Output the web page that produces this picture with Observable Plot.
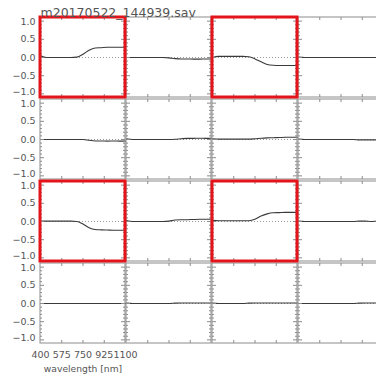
<!DOCTYPE html>
<html>
<head>
<meta charset="utf-8">
<script src="https://cdn.jsdelivr.net/npm/d3@7"></script>
<script src="https://cdn.jsdelivr.net/npm/@observablehq/plot@0.6"></script>
<style>
  html, body { margin: 0; padding: 0; background: #fff; overflow: hidden; }
  #chart svg { display: block; max-width: none !important; }
</style>
</head>
<body>
<div id="chart"></div>
<script>
// ---------- data ----------
const title = "m20170522_144939.sav";
const xLabel = "wavelength [nm]";
const wavelengths = [400, 450, 500, 550, 600, 650, 700, 750, 800, 850, 900, 950, 1000, 1050, 1100];
const xTickValues = [400, 575, 750, 925, 1100];
const xTickLabels = ["400", "575", "750", "925", "1100"];
const xInnerTicks = [575, 750, 925];
const yTickValues = [-1, -0.5, 0, 0.5, 1];
const yTickLabels = ["\u22121.0", "\u22120.5", "0.0", "0.5", "1.0"];

const r1c1 = [0.05, 0.00, 0.00, 0.00, 0.00, 0.00, 0.01, 0.09, 0.20, 0.26, 0.27, 0.28, 0.28, 0.28, 0.28];
const r1c2 = [0.00, 0.00, 0.00, 0.00, 0.00, 0.00, 0.00, -0.01, -0.03, -0.04, -0.04, -0.045, -0.045, -0.04, -0.04];
const r1c3 = [0.00, 0.03, 0.03, 0.03, 0.03, 0.03, 0.02, -0.04, -0.12, -0.19, -0.215, -0.22, -0.22, -0.22, -0.22];
const r1c4 = [0.01, 0.00, 0.00, 0.00, 0.00, 0.00, 0.00, 0.00, 0.00, 0.00, 0.00, 0.00, 0.00, 0.00, 0.00];
const r2c1 = [0.00, 0.00, 0.00, 0.00, 0.00, 0.00, 0.00, 0.00, -0.02, -0.04, -0.04, -0.045, -0.04, -0.045, -0.04];
const r2c2 = [0.02, 0.00, 0.00, 0.00, 0.00, 0.00, 0.00, 0.00, 0.005, 0.02, 0.03, 0.03, 0.035, 0.03, 0.035];
const r2c3 = [0.02, 0.01, 0.01, 0.01, 0.01, 0.01, 0.01, 0.02, 0.035, 0.045, 0.05, 0.055, 0.06, 0.06, 0.06];
const r2c4 = [0.01, 0.00, 0.00, 0.00, 0.00, 0.00, 0.00, 0.00, 0.00, 0.00, -0.01, -0.01, -0.01, -0.01, -0.01];
const r3c1 = [0.01, 0.01, 0.01, 0.01, 0.01, 0.01, 0.00, -0.07, -0.17, -0.22, -0.23, -0.235, -0.24, -0.24, -0.24];
const r3c2 = [0.03, 0.00, 0.00, 0.00, 0.00, 0.00, 0.00, 0.01, 0.04, 0.05, 0.05, 0.055, 0.06, 0.06, 0.06];
const r3c3 = [0.03, 0.02, 0.02, 0.02, 0.02, 0.02, 0.02, 0.06, 0.15, 0.21, 0.24, 0.245, 0.25, 0.25, 0.25];
const r3c4 = [0.01, 0.00, 0.00, 0.00, 0.00, 0.00, 0.00, 0.00, 0.00, 0.00, 0.01, 0.01, 0.00, 0.01, 0.00];
const r4c1 = [0.00, 0.00, 0.00, 0.00, 0.00, 0.00, 0.00, 0.00, 0.00, 0.00, 0.00, 0.00, 0.00, 0.00, 0.00];
const r4c2 = [0.01, 0.00, 0.00, 0.00, 0.00, 0.00, 0.00, 0.00, 0.01, 0.015, 0.015, 0.015, 0.015, 0.015, 0.015];
const r4c3 = [0.01, 0.00, 0.00, 0.00, 0.00, 0.00, 0.01, 0.015, 0.015, 0.015, 0.015, 0.015, 0.015, 0.015, 0.015];
const r4c4 = [0.00, 0.00, 0.00, 0.00, 0.00, 0.00, 0.00, 0.00, 0.00, 0.00, 0.01, 0.015, 0.015, 0.015, 0.015];

const rows = [0, 1, 2, 3];
const cols = [0, 1, 2, 3];
const seriesGrid = [
  [r1c1, r1c2, r1c3, r1c4],
  [r2c1, r2c2, r2c3, r2c4],
  [r3c1, r3c2, r3c3, r3c4],
  [r4c1, r4c2, r4c3, r4c4]
];
// highlighted (red-boxed) panels: [row, col]
const highlighted = [[0, 0], [0, 2], [2, 0], [2, 2]];

// ---------- derived tables ----------
const panels = rows.flatMap(r => cols.map(c => ({row: r, col: c})));
const points = panels.flatMap(p =>
  wavelengths.map((w, i) => ({row: p.row, col: p.col, id: p.row * 4 + p.col, wl: w, v: seriesGrid[p.row][p.col][i]})));
const redPanels = highlighted.map(([r, c]) => ({row: r, col: c}));

// ---------- layout ----------
const xDomain = [400, 1100];
const yDomain = [-1.1, 1.1];
const panelW = 85, panelH = 80, gapX = 1, gapY = 2;
const marginLeft = 40, marginTop = 17, marginBottom = 39;
const width = marginLeft + 4 * panelW + 3 * gapX;
const height = marginTop + 4 * panelH + 3 * gapY + marginBottom;

const xPerPx = (xDomain[1] - xDomain[0]) / panelW;
const yPerPx = (yDomain[1] - yDomain[0]) / panelH;
const yMajorLen = 4 * xPerPx, yMinorLen = 2 * xPerPx, xTickLen = 3 * yPerPx;

const yMajor = yTickValues;
const yMinor = d3.range(-10, 11).map(i => i / 10).filter(v => !yMajor.some(m => Math.abs(m - v) < 1e-9));
const cross = (vals) => panels.flatMap(p => vals.map(v => ({row: p.row, col: p.col, v})));

const frameColor = "#8c8c8c";
const textColor = "#555";
const font = "DejaVu Sans, sans-serif";

// nudge the extreme y labels apart slightly (as in the original)
const yLabelShift = {"1": 0.5, "-1": -1.5};
const yLabelRows = rows.flatMap(r => yTickValues.map((v, i) => ({row: r, v, label: yTickLabels[i], shift: yLabelShift[String(v)] || 0})));

const chart = Plot.plot({
  width, height,
  marginLeft, marginRight: 0, marginTop, marginBottom,
  style: {fontFamily: font, background: "#fff", overflow: "visible", maxWidth: "none"},
  fx: {domain: cols, paddingInner: gapX / (panelW + gapX), paddingOuter: 0, round: false, axis: null},
  fy: {domain: rows, paddingInner: gapY / (panelH + gapY), paddingOuter: 0, round: false, axis: null},
  x: {domain: xDomain, axis: null},
  y: {domain: yDomain, axis: null},
  marks: [
    // zero reference line (dotted)
    Plot.ruleY(panels, {y: 0, fx: "col", fy: "row", stroke: "#9a9a9a", strokeWidth: 1, strokeDasharray: "1,2"}),
    // data lines
    Plot.line(points, {x: "wl", y: "v", z: "id", fx: "col", fy: "row", stroke: "#3a3a3a", strokeWidth: 1.1, curve: "monotone-x"}),
    // inner x ticks (bottom and top)
    Plot.ruleX(cross(xInnerTicks), {x: "v", y1: yDomain[0], y2: yDomain[0] + xTickLen, fx: "col", fy: "row", stroke: frameColor}),
    Plot.ruleX(cross(xInnerTicks), {x: "v", y1: yDomain[1], y2: yDomain[1] - xTickLen, fx: "col", fy: "row", stroke: frameColor}),
    // inner y ticks (left and right)
    Plot.ruleY(cross(yMajor), {y: "v", x1: xDomain[0], x2: xDomain[0] + yMajorLen, fx: "col", fy: "row", stroke: frameColor}),
    Plot.ruleY(cross(yMajor), {y: "v", x1: xDomain[1], x2: xDomain[1] - yMajorLen, fx: "col", fy: "row", stroke: frameColor}),
    Plot.ruleY(cross(yMinor), {y: "v", x1: xDomain[0], x2: xDomain[0] + yMinorLen, fx: "col", fy: "row", stroke: frameColor}),
    Plot.ruleY(cross(yMinor), {y: "v", x1: xDomain[1], x2: xDomain[1] - yMinorLen, fx: "col", fy: "row", stroke: frameColor}),
    // panel frames
    Plot.rect(panels, {x1: xDomain[0], x2: xDomain[1], y1: yDomain[0], y2: yDomain[1], fx: "col", fy: "row", fill: "none", stroke: frameColor, strokeWidth: 1}),
    // red highlight frames
    Plot.rect(redPanels, {x1: xDomain[0], x2: xDomain[1], y1: yDomain[0], y2: yDomain[1], fx: "col", fy: "row", fill: "none", stroke: "#e4141b", strokeWidth: 3}),
    // y tick labels (first column)
    ...[0.5, -1.5, 0].map(s => Plot.text(yLabelRows.filter(d => d.shift === s), {
      y: "v", text: "label", fx: 0, fy: "row", frameAnchor: "left", textAnchor: "end", dx: -5, dy: s,
      fontSize: 9.5, fill: textColor
    })),
    // x tick labels (bottom-left panel)
    Plot.text(xTickValues.map((v, i) => ({v, label: xTickLabels[i]})), {
      x: "v", text: "label", fx: 0, fy: 3, frameAnchor: "bottom", dy: 14,
      fontSize: 9.5, fill: textColor
    }),
    // x axis label
    Plot.text([xLabel], {text: d => d, fx: 0, fy: 3, frameAnchor: "bottom", dy: 28, fontSize: 9.2, fill: textColor}),
    // title
    Plot.text([title], {text: d => d, fx: 0, fy: 0, frameAnchor: "top-left", textAnchor: "start", dx: 0, dy: -9, fontSize: 12.5, fill: textColor})
  ]
});
document.getElementById("chart").append(chart);
</script>
</body>
</html>
